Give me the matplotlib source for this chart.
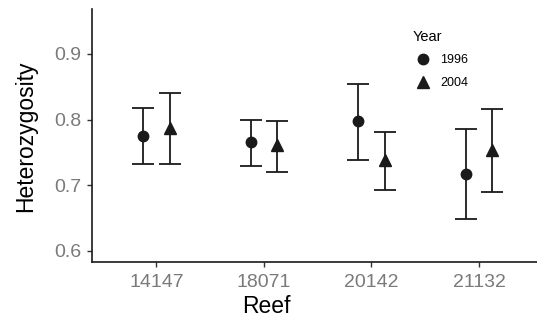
import matplotlib
matplotlib.use("Agg")
import matplotlib.pyplot as plt
import numpy as np

reefs = ["14147", "18071", "20142", "21132"]
years = ["1996", "2004"]
mean_1996 = [0.775, 0.766, 0.798, 0.717]
low_1996 = [0.732, 0.730, 0.739, 0.648]
high_1996 = [0.818, 0.800, 0.854, 0.786]
mean_2004 = [0.787, 0.761, 0.739, 0.754]
low_2004 = [0.732, 0.720, 0.693, 0.690]
high_2004 = [0.840, 0.798, 0.781, 0.816]

plt.rcParams['font.family'] = ['Liberation Sans', 'DejaVu Sans']

fig = plt.figure(figsize=(5.37, 3.21), dpi=100)
ax = fig.add_axes([92/537, 1 - 262/321, 1 - 92/537, (262 - 9)/321])

x = np.arange(1, len(reefs) + 1)
dodge = 0.125
series = [(mean_1996, low_1996, high_1996, 'o', 7.5, -dodge),
          (mean_2004, low_2004, high_2004, '^', 8.5, dodge)]
handles = []
for (m, lo, hi, mk, ms, off), yr in zip(series, years):
    m = np.array(m); lo = np.array(lo); hi = np.array(hi)
    ax.errorbar(x + off, m, yerr=[m - lo, hi - m], fmt='none', ecolor='#1a1a1a',
                elinewidth=1.3, capsize=8, capthick=1.3)
    h, = ax.plot(x + off, m, linestyle='none', marker=mk, markersize=ms,
                 color='#1a1a1a', label=yr)
    handles.append(h)

ax.set_xlim(0.4, 4.54)
ax.set_ylim(0.583, 0.9685)
ax.set_xticks(x)
ax.set_xticklabels(reefs)
ax.set_yticks([0.6, 0.7, 0.8, 0.9])
ax.set_yticklabels(["0.6", "0.7", "0.8", "0.9"])
ax.tick_params(axis='both', colors='#333333', labelcolor='#7a7a7a', labelsize=14,
               length=3.5, width=1)
ax.tick_params(axis='x', pad=5)
ax.tick_params(axis='y', pad=4)
for s in ['top', 'right']:
    ax.spines[s].set_visible(False)
for s in ['left', 'bottom']:
    ax.spines[s].set_linewidth(1.2)
    ax.spines[s].set_color('#1a1a1a')
ax.set_xlabel("Reef", fontsize=16.5, color='black')
ax.set_ylabel("Heterozygosity", fontsize=16.5, color='black')
ax.xaxis.set_label_coords((266 - 92) / (537 - 92), -(295 - 262) / 253)
ax.yaxis.set_label_coords(-(92 - 37) / (537 - 92), (262 - 136) / 253)

leg = ax.legend(handles=handles, labels=years, title="Year", loc='upper left',
                bbox_to_anchor=((404 - 92) / (537 - 92), 1 - (21 - 9) / 253),
                bbox_transform=ax.transAxes,
                frameon=False, fontsize=9, title_fontsize=10.5, handletextpad=0.6,
                labelspacing=0.85, handlelength=1.6, borderpad=0.2)
leg._legend_box.align = "left"

fig.savefig("out.png", dpi=100)
